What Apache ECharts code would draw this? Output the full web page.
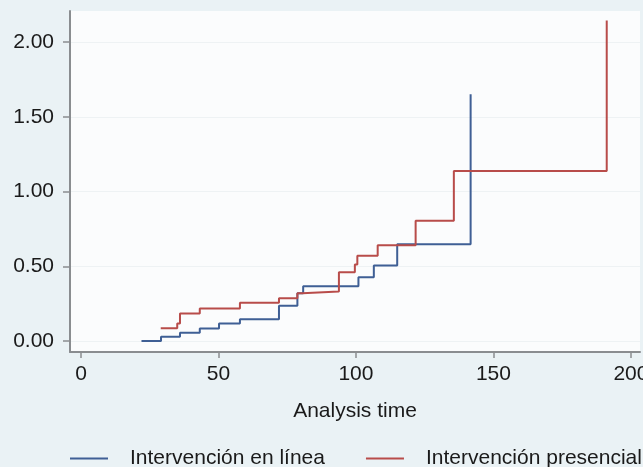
<!DOCTYPE html>
<html>
<head>
<meta charset="utf-8">
<script src="https://cdn.jsdelivr.net/npm/echarts@6/dist/echarts.min.js"></script>
<style>
html,body{margin:0;padding:0;background:#eaf2f5;}
#c{width:643px;height:467px;}
</style>
</head>
<body>
<div id="c"></div>
<script>
// Data (Nelson-Aalen cumulative hazard estimates)
const seriesNames = ['Intervención en línea', 'Intervención presencial'];
const timesOnline  = [22.0, 29.1, 36.0, 43.2, 50.2, 57.8, 72.0, 78.7, 80.8, 100.9, 106.5, 115.0, 141.7];
const hazardOnline = [0.000, 0.029, 0.056, 0.084, 0.117, 0.145, 0.236, 0.320, 0.366, 0.427, 0.505, 0.647, 1.651];
const timesPres    = [29.0, 35.0, 36.0, 43.2, 57.8, 72.0, 78.7, 80.5, 93.8, 99.6, 100.5, 107.9, 121.7, 135.6, 191.2];
const hazardPres   = [0.085, 0.117, 0.184, 0.218, 0.256, 0.286, 0.319, 0.331, 0.460, 0.512, 0.570, 0.641, 0.805, 1.138, 2.145];
const xTicks = [0, 50, 100, 150, 200];
const yTicks = [0, 0.5, 1.0, 1.5, 2.0];
const xTitle = 'Analysis time';

const pairs = (xs, ys) => xs.map((x, i) => [x, ys[i]]);
const font = '"Liberation Sans", Arial, sans-serif';
const axisGray = '#8a8d90';
const fs = 21;

const chart = echarts.init(document.getElementById('c'), null, {renderer: 'canvas'});
chart.setOption({
  backgroundColor: '#eaf2f5',
  animation: false,
  grid: {left: 70, right: 3, top: 11, bottom: 115, show: true, backgroundColor: '#fbfcfd', borderWidth: 0,
         outerBoundsMode: 'none', containLabel: false},
  legend: {
    left: 70, top: 448, padding: 0,
    icon: 'rect', itemWidth: 38, itemHeight: 2, itemGap: 41,
    textStyle: {fontFamily: font, fontSize: fs, color: '#1a1a1a', padding: [0, 0, 0, 17]},
    data: seriesNames
  },
  xAxis: {
    type: 'value', min: -4, max: 203.3,
    name: xTitle, nameLocation: 'middle', nameGap: 49,
    nameTextStyle: {fontFamily: font, fontSize: fs, color: '#1a1a1a'},
    axisLine: {onZero: false, lineStyle: {color: axisGray, width: 2}},
    axisTick: {show: true, length: 6, lineStyle: {color: axisGray, width: 1.5}, customValues: xTicks},
    axisLabel: {fontFamily: font, fontSize: fs, color: '#1a1a1a', margin: 12, customValues: xTicks},
    splitLine: {show: false}
  },
  yAxis: {
    type: 'value', min: -0.0736, max: 2.209,
    axisLine: {show: true, onZero: false, lineStyle: {color: axisGray, width: 2}},
    axisTick: {show: true, length: 7, lineStyle: {color: axisGray, width: 1.5}, customValues: yTicks},
    axisLabel: {fontFamily: font, fontSize: fs, color: '#1a1a1a', margin: 16,
      customValues: yTicks, formatter: v => v.toFixed(2)},
    splitLine: {show: true, lineStyle: {color: '#eef2f4', width: 1}}
  },
  series: [
    {name: seriesNames[0], type: 'line', step: 'end', showSymbol: false, symbol: 'none',
     data: pairs(timesOnline, hazardOnline), itemStyle: {color: '#3f5f95'},
     lineStyle: {color: '#3f5f95', width: 2}},
    {name: seriesNames[1], type: 'line', step: 'end', showSymbol: false, symbol: 'none',
     data: pairs(timesPres, hazardPres), itemStyle: {color: '#b84c4a'},
     lineStyle: {color: '#b84c4a', width: 2}}
  ]
});
</script>
</body>
</html>
